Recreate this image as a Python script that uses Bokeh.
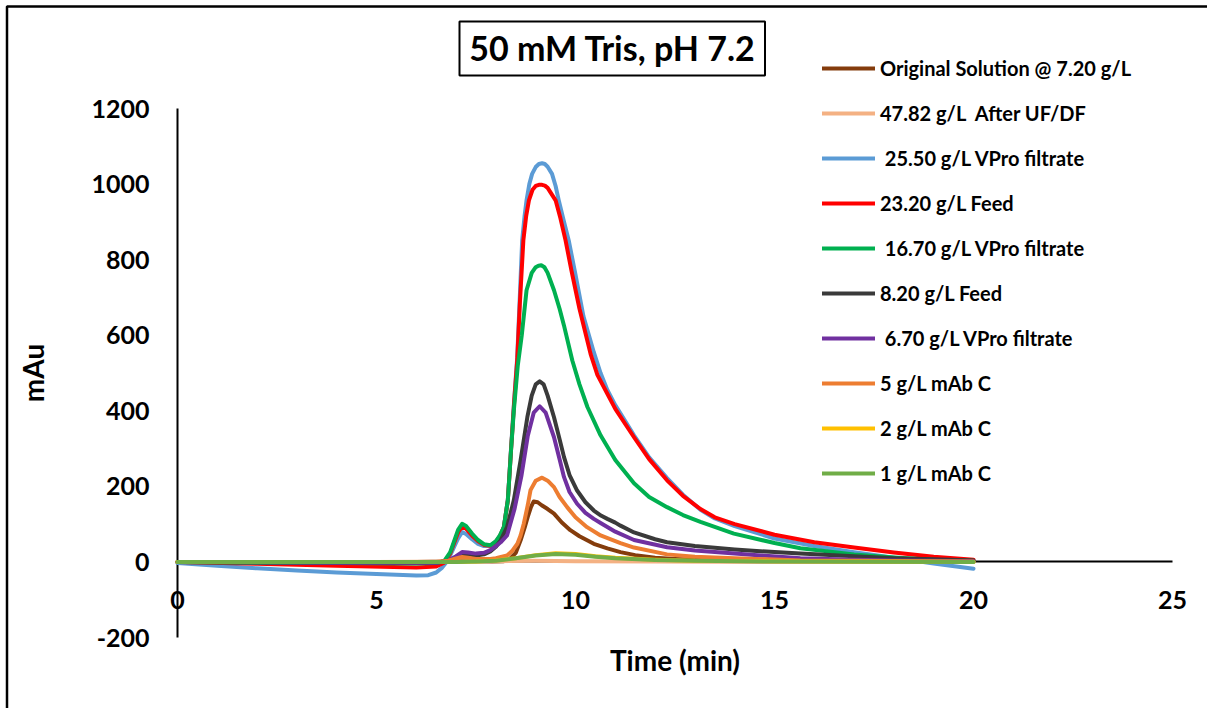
from bokeh.plotting import figure
from bokeh.models import Range1d, FixedTicker, BoxAnnotation, Label, Legend, LegendItem
from bokeh.embed import file_html
from bokeh.resources import INLINE

# ---------------- data ----------------
names = [
    "Original Solution @ 7.20 g/L",
    "47.82 g/L  After UF/DF",
    " 25.50 g/L VPro filtrate",
    "23.20 g/L Feed",
    " 16.70 g/L VPro filtrate",
    "8.20 g/L Feed",
    " 6.70 g/L VPro filtrate",
    "5 g/L mAb C",
    "2 g/L mAb C",
    "1 g/L mAb C",
]
colors = ["#843C0C", "#F4B183", "#5B9BD5", "#FF0000", "#00B050",
          "#3A3A3A", "#7030A0", "#ED7D31", "#FFC000", "#70AD47"]

t_brown = [0, 2, 4, 6, 6.8, 7.15, 7.5, 7.9, 8.2, 8.35, 8.5, 8.62, 8.72, 8.8, 8.88, 8.95, 9.05, 9.15,
           9.3, 9.46, 9.65, 9.87, 10.1, 10.46, 10.8, 11.13, 11.5, 12, 12.5, 13, 14, 15, 16, 17, 18, 19, 20]
v_brown = [0, 0, 0, 0, 1, 4, 2, 1, 2, 8, 24, 57, 90, 119, 145, 160, 158, 150,
           140, 128, 105, 84, 68, 48, 36, 26, 18, 11, 8, 6, 4, 3, 2, 2, 1, 1, 1]

t_peach = [0, 5, 7, 8, 9, 10, 12, 15, 20]
v_peach = [0, 0, 1, 2, 3, 2, 1, 0, 0]

t_blue = [0, 1, 2, 3, 4, 5, 5.5, 6, 6.3, 6.5, 6.65, 6.8, 6.95, 7.05, 7.15, 7.25, 7.4, 7.55, 7.7, 7.86,
          8.0, 8.1, 8.2, 8.3, 8.38, 8.46, 8.535, 8.6, 8.66, 8.72, 8.77, 8.84, 8.91, 9.0, 9.08, 9.16,
          9.23, 9.3, 9.41, 9.5, 9.58, 9.7, 9.83, 10.0, 10.2, 10.46, 10.63, 10.8, 11.0, 11.47, 11.85,
          12.3, 12.7, 13.14, 13.5, 14, 15, 16, 17, 18, 19, 20]
v_blue = [-3, -10, -17, -23, -28, -32, -34, -36, -35, -28, -15, 5, 40, 62, 79, 74, 60, 48, 42, 42,
          50, 65, 92, 165, 300, 430, 540, 700, 851, 915, 957, 1000, 1027, 1045, 1053, 1055,
          1053, 1046, 1027, 995, 957, 905, 851, 760, 650, 555, 500, 455, 415, 335, 277,
          222, 178, 138, 115, 95, 62, 42, 26, 11, -4, -18]

t_red = [0, 2, 4, 6, 6.5, 6.7, 6.85, 6.95, 7.05, 7.15, 7.25, 7.4, 7.55, 7.7, 7.86, 8.0, 8.1,
         8.2, 8.3, 8.38, 8.46, 8.535, 8.6, 8.69, 8.76, 8.83, 8.92, 9.0, 9.08, 9.16, 9.23, 9.3, 9.5,
         9.62, 9.75, 9.9, 10.1, 10.38, 10.55, 10.8, 11.0, 11.47, 11.85, 12.3, 12.7, 13.14, 13.5,
         14, 15, 16, 17, 18, 19, 20]
v_red = [0, -5, -10, -15, -12, -2, 22, 50, 78, 94, 88, 70, 55, 45, 43, 53, 68,
         92, 163, 295, 425, 533, 680, 851, 915, 957, 985, 995, 998, 998, 996, 990, 957,
         910, 851, 770, 670, 550, 495, 445, 405, 330, 272, 216, 175, 140, 118,
         100, 72, 52, 38, 25, 14, 6]

t_green = [0, 2, 4, 6, 6.5, 6.7, 6.85, 6.95, 7.05, 7.15, 7.25, 7.4, 7.55, 7.7, 7.86, 8.0, 8.1,
           8.2, 8.3, 8.38, 8.45, 8.55, 8.65, 8.77, 8.9, 9.0, 9.07, 9.14, 9.22, 9.3, 9.46, 9.6, 9.71,
           9.92, 10.1, 10.3, 10.63, 11.0, 11.47, 11.85, 12.3, 12.7, 13.14, 13.98, 15, 15.65, 17,
           18, 19, 20]
v_green = [0, -2, -3, -4, -3, 2, 25, 55, 85, 101, 95, 75, 58, 47, 44, 55, 70,
           92, 163, 295, 400, 520, 600, 719, 765, 780, 784, 785, 780, 765, 719, 670, 626,
           533, 470, 410, 335, 270, 208, 172, 145, 124, 106, 75, 50, 36, 20,
           12, 6, 3]

t_black = [0, 2, 4, 6, 6.5, 6.8, 7.0, 7.15, 7.3, 7.5, 7.7, 7.86, 8.0, 8.12, 8.28, 8.45, 8.62, 8.79,
           8.9, 9.0, 9.1, 9.2, 9.3, 9.46, 9.6, 9.71, 9.85, 10.04, 10.25, 10.46, 10.65, 10.8,
           11.0, 11.13, 11.47, 12.0, 12.3, 13, 14, 15, 15.65, 17, 18, 19, 20]
v_black = [0, -1, -2, -2, -2, 3, 12, 20, 20, 17, 20, 28, 40, 57, 92, 163, 269, 383,
           440, 470, 478, 470, 440, 383, 325, 278, 230, 189, 158, 136, 122, 114,
           104, 96, 78, 60, 52, 42, 33, 26, 22, 15, 10, 7, 4]

t_purple = [0, 2, 4, 6, 6.5, 6.8, 7.0, 7.15, 7.3, 7.5, 7.7, 7.86, 8.0, 8.12, 8.28, 8.47, 8.64, 8.8,
            8.95, 9.1, 9.25, 9.46, 9.6, 9.71, 9.85, 10.04, 10.25, 10.46, 10.63, 11.0, 11.47,
            12.3, 13, 14, 15.65, 17, 18, 19, 20]
v_purple = [0, -1, -2, -2, -2, 3, 15, 26, 25, 22, 24, 31, 42, 52, 70, 141, 227, 333,
            395, 412, 395, 330, 272, 225, 185, 154, 130, 114, 103, 80, 58,
            39, 30, 22, 10, 6, 4, 3, 2]

t_orange = [0, 3, 6, 6.5, 6.8, 7.0, 7.15, 7.3, 7.5, 7.86, 8.0, 8.28, 8.4, 8.54, 8.62, 8.7, 8.8,
            8.87, 9.0, 9.16, 9.3, 9.46, 9.6, 9.79, 10.0, 10.29, 10.63, 11.13, 11.47, 12.3, 13,
            14, 15.65, 17, 20]
v_orange = [0, 0, 0, 0, 3, 9, 13, 11, 8, 8, 10, 17, 28, 48, 70, 101, 150,
            190, 215, 223, 215, 198, 172, 145, 118, 92, 70, 50, 38, 20, 14,
            10, 4, 3, 1]

t_yellow = [0, 7, 7.5, 8, 8.5, 9.0, 9.5, 10.0, 10.5, 11, 12, 13, 15, 20]
v_yellow = [0, 0, 1, 4, 10, 18, 23, 21, 15, 11, 6, 3, 2, 0]

t_lgreen = [0, 7, 7.5, 8, 8.5, 9.0, 9.5, 10.0, 10.5, 11, 12, 13, 15, 20]
v_lgreen = [0, 0, 1, 3, 10, 17, 21, 19, 14, 10, 5, 3, 1, 0]

times = [t_brown, t_peach, t_blue, t_red, t_green, t_black, t_purple, t_orange, t_yellow, t_lgreen]
values = [v_brown, v_peach, v_blue, v_red, v_green, v_black, v_purple, v_orange, v_yellow, v_lgreen]

x_ticks = [0, 5, 10, 15, 20, 25]
y_ticks = [-200, 0, 200, 400, 600, 800, 1000, 1200]
x_bounds = (0, 25)
y_bounds = (-200, 1200)

FONT = "Lato"
W, H = 1207, 708
# plot area in the picture: x 0..25 -> px 177..1172, y -200..1200 -> px 637..108
PX_L, PX_R, PX_T, PX_B = 177.0, 1172.0, 108.0, 637.0
sx = (PX_R - PX_L) / (x_bounds[1] - x_bounds[0])
sy = (PX_B - PX_T) / (y_bounds[1] - y_bounds[0])
xr = Range1d(x_bounds[0] - PX_L / sx, x_bounds[1] + (W - PX_R) / sx)
yr = Range1d(y_bounds[0] - (H - PX_B) / sy, y_bounds[1] + PX_T / sy)

p = figure(width=W, height=H, output_backend="svg", toolbar_location=None,
           x_range=xr, y_range=yr,
           min_border_left=0, min_border_right=0, min_border_top=0, min_border_bottom=0)
p.xgrid.visible = False
p.ygrid.visible = False
p.outline_line_color = None
p.background_fill_color = "white"
p.border_fill_color = "white"

items = []
for name, col, tt, vv in zip(names, colors, times, values):
    r = p.line(tt, vv, line_color=col, line_width=4, line_join="round", line_cap="round")
    items.append(LegendItem(label=name, renderers=[r]))

# axes
xa = p.xaxis[0]
xa.fixed_location = 0
xa.bounds = x_bounds
xa.level = "underlay"
xa.ticker = FixedTicker(ticks=x_ticks)
xa.axis_line_color = "black"
xa.axis_line_width = 2
xa.major_tick_in = 0
xa.major_tick_out = 0
xa.minor_tick_in = 0
xa.minor_tick_out = 0
xa.major_label_standoff = 29
xa.major_label_text_font = FONT
xa.major_label_text_font_style = "bold"
xa.major_label_text_font_size = "25px"
xa.major_label_text_color = "black"
xa.axis_label = "Time (min)"
xa.axis_label_text_font = FONT
xa.axis_label_text_font_style = "bold"
xa.axis_label_text_font_size = "28px"
xa.axis_label_text_color = "black"
xa.axis_label_standoff = 31

ya = p.yaxis[0]
ya.fixed_location = 0
ya.bounds = y_bounds
ya.level = "underlay"
ya.ticker = FixedTicker(ticks=y_ticks)
ya.major_label_overrides = {-200: "-200"}
ya.axis_line_color = "black"
ya.axis_line_width = 2
ya.major_tick_in = 0
ya.major_tick_out = 0
ya.minor_tick_in = 0
ya.minor_tick_out = 0
ya.major_label_standoff = 28
ya.major_label_text_font = FONT
ya.major_label_text_font_style = "bold"
ya.major_label_text_font_size = "25px"
ya.major_label_text_color = "black"
ya.axis_label = "mAu"
ya.axis_label_text_font = FONT
ya.axis_label_text_font_style = "bold"
ya.axis_label_text_font_size = "28px"
ya.axis_label_text_color = "black"
ya.axis_label_standoff = 38

legend = Legend(items=items, location=(822, 223), orientation="vertical",
                glyph_width=53, glyph_height=20, label_height=20, spacing=21,
                padding=0, margin=0, label_standoff=5,
                border_line_color=None, background_fill_alpha=0,
                label_text_font=FONT, label_text_font_style="bold",
                label_text_font_size="20px", label_text_color="black")
p.add_layout(legend, "center")

# chart border and title box
p.add_layout(BoxAnnotation(left=6.5, right=1300, top=6, bottom=800,
                           left_units="canvas", right_units="canvas",
                           top_units="canvas", bottom_units="canvas",
                           fill_alpha=0, line_color="black", line_alpha=1, line_width=2.5))
p.add_layout(BoxAnnotation(left=459, right=764.5, top=21, bottom=75,
                           left_units="canvas", right_units="canvas",
                           top_units="canvas", bottom_units="canvas",
                           fill_color="white", fill_alpha=1, line_color="black",
                           line_alpha=1, line_width=2))
p.add_layout(Label(x=612, y=H - 47, x_units="screen", y_units="screen",
                   text="50 mM Tris, pH 7.2", text_align="center", text_baseline="middle",
                   text_font=FONT, text_font_style="bold", text_font_size="34px",
                   text_color="black"))

open("out.html", "w").write(file_html(p, INLINE))
